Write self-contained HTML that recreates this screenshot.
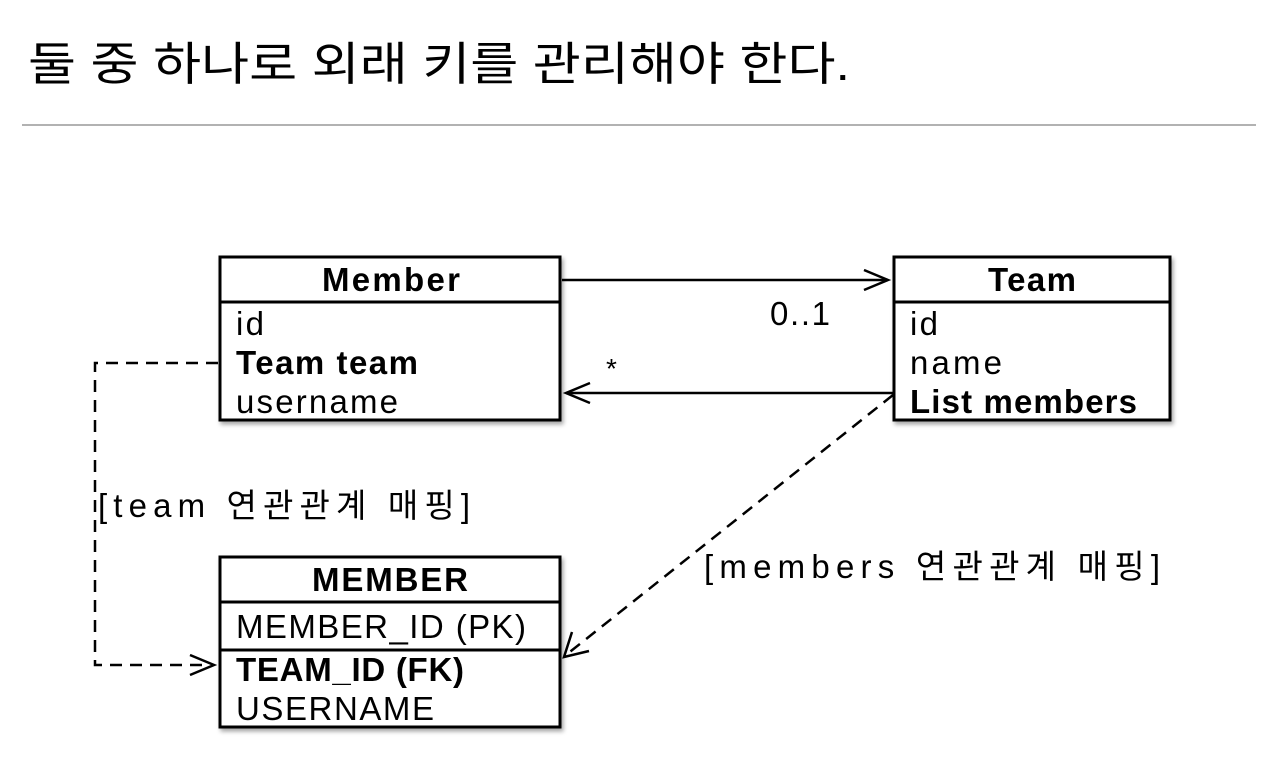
<!DOCTYPE html>
<html><head><meta charset="utf-8"><style>
body{margin:0;background:#fff;width:1280px;height:769px;overflow:hidden}
svg text{font-family:"Liberation Sans","Noto Sans CJK KR",sans-serif;fill:#000}
</style></head><body>
<svg width="1280" height="769" xmlns="http://www.w3.org/2000/svg">
<defs><filter id="sh"><feDropShadow dx="2" dy="3" stdDeviation="2" flood-opacity="0.35"/></filter></defs>
<text x="28" y="80" font-size="46" textLength="822" lengthAdjust="spacingAndGlyphs">둘 중 하나로 외래 키를 관리해야 한다.</text>
<line x1="22" y1="125" x2="1256" y2="125" stroke="#999" stroke-width="1.5"/>
<g fill="#fff" stroke="#000" stroke-width="3">
<rect x="220" y="257" width="340" height="163" filter="url(#sh)"/>
<rect x="894" y="257" width="276" height="163" filter="url(#sh)"/>
<rect x="220" y="557" width="340" height="170" filter="url(#sh)"/>
</g>
<g stroke="#000" stroke-width="3">
<line x1="220" y1="302" x2="560" y2="302"/>
<line x1="894" y1="302" x2="1170" y2="302"/>
<line x1="220" y1="602" x2="560" y2="602"/>
<line x1="220" y1="650" x2="560" y2="650"/>
</g>
<g font-size="33" lengthAdjust="spacingAndGlyphs">
<text x="322" y="291" font-weight="bold" textLength="138">Member</text>
<text x="236" y="335" textLength="28">id</text>
<text x="236" y="374" font-weight="bold" textLength="182">Team team</text>
<text x="236" y="413" textLength="162">username</text>
<text x="988" y="291" font-weight="bold" textLength="88">Team</text>
<text x="910" y="335" textLength="28">id</text>
<text x="910" y="374" textLength="92">name</text>
<text x="910" y="413" font-weight="bold" textLength="227">List members</text>
<text x="312" y="591" font-weight="bold" textLength="156">MEMBER</text>
<text x="236" y="638" textLength="290">MEMBER_ID (PK)</text>
<text x="236" y="681" font-weight="bold" textLength="228">TEAM_ID (FK)</text>
<text x="236" y="720" textLength="198">USERNAME</text>
<text x="770" y="325" textLength="60">0..1</text>
<text x="606" y="378" font-size="28">*</text>
<text x="98" y="517" textLength="372">[team 연관관계 매핑]</text>
<text x="704" y="578" textLength="456">[members 연관관계 매핑]</text>
</g>
<g stroke="#000" stroke-width="2.5" fill="none">
<line x1="562" y1="280" x2="888" y2="280"/>
<polyline points="864,270 888,280 864,290"/>
<line x1="566" y1="393" x2="893" y2="393"/>
<polyline points="590,383 566,393 590,403"/>
<polyline stroke-dasharray="12,8" points="218,363 95,363 95,665 210,665"/>
<polyline points="190,655 214,665 190,675"/>
<line stroke-dasharray="12,8" x1="893" y1="395" x2="566" y2="655"/>
<polyline points="572,632 564,657 589,651"/>
</g>
</svg>
</body></html>
